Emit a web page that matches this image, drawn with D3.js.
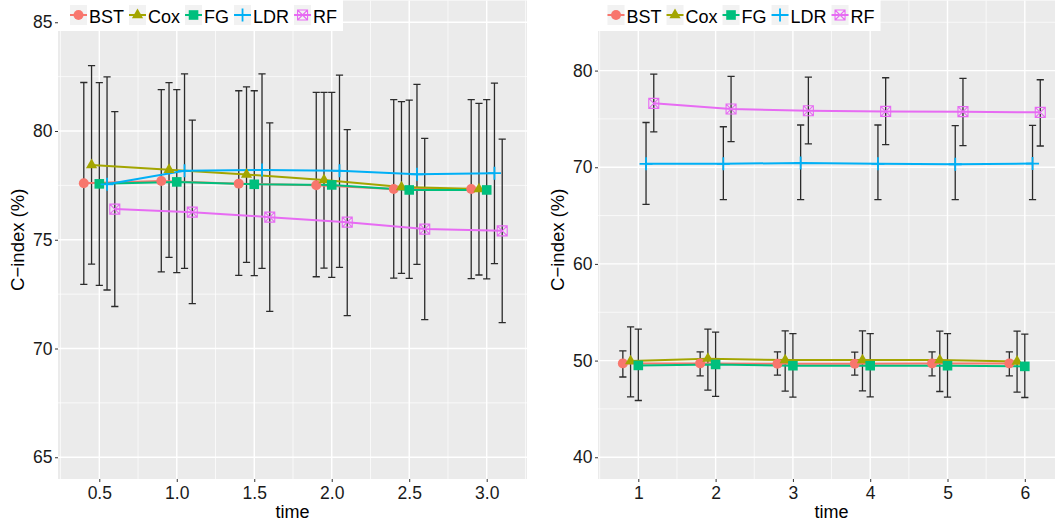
<!DOCTYPE html>
<html>
<head>
<meta charset="utf-8">
<script src="https://cdn.jsdelivr.net/npm/d3@7"></script>
<style>
  body { margin: 0; background: #fff; }
  svg { display: block; font-family: "Liberation Sans", Arial, sans-serif; }
</style>
</head>
<body>
<div id="chart"></div>
<script>
// methods and ggplot hue colours
var methods = ["BST", "Cox", "FG", "LDR", "RF"];
var colours = ["#F8766D", "#A3A500", "#00BF7D", "#00B0F6", "#E76BF3"];

// left panel: time 0.5 .. 3.0
var leftTimes = [0.5, 1.0, 1.5, 2.0, 2.5, 3.0];
var leftMean = [
  [77.60, 77.70, 77.58, 77.51, 77.33, 77.33],
  [78.44, 78.22, 78.00, 77.75, 77.42, 77.33],
  [77.57, 77.66, 77.55, 77.52, 77.29, 77.29],
  [77.55, 78.17, 78.21, 78.17, 78.01, 78.06],
  [76.41, 76.27, 76.04, 75.81, 75.49, 75.41]
];
var leftLower = [
  [72.95, 73.52, 73.36, 73.30, 73.24, 73.21],
  [73.88, 74.19, 73.96, 73.70, 73.45, 73.38],
  [72.90, 73.49, 73.35, 73.27, 73.22, 73.20],
  [72.69, 73.68, 73.68, 73.73, 73.87, 73.90],
  [71.93, 72.06, 71.71, 71.51, 71.33, 71.19]
];
var leftUpper = [
  [82.23, 81.90, 81.85, 81.78, 81.44, 81.44],
  [83.01, 82.22, 82.03, 81.78, 81.35, 81.27],
  [82.22, 81.90, 81.85, 81.78, 81.42, 81.44],
  [82.49, 82.63, 82.63, 82.57, 82.14, 82.20],
  [80.89, 80.50, 80.37, 80.06, 79.66, 79.63]
];
var leftYTicks = [65, 70, 75, 80, 85];

// right panel: time 1 .. 6
var rightTimes = [1, 2, 3, 4, 5, 6];
var rightMean = [
  [49.71, 49.71, 49.67, 49.67, 49.71, 49.71],
  [49.95, 50.20, 50.05, 50.05, 50.05, 49.91],
  [49.50, 49.60, 49.47, 49.47, 49.47, 49.40],
  [70.35, 70.35, 70.45, 70.35, 70.31, 70.38],
  [76.61, 76.02, 75.85, 75.78, 75.75, 75.68]
];
var rightLower = [
  [48.30, 48.42, 48.49, 48.49, 48.42, 48.42],
  [46.25, 46.94, 46.84, 46.87, 46.80, 46.74],
  [45.87, 46.29, 46.22, 46.25, 46.22, 46.18],
  [66.15, 66.66, 66.66, 66.66, 66.66, 66.66],
  [73.65, 72.65, 72.41, 72.34, 72.24, 72.20]
];
var rightUpper = [
  [51.00, 50.90, 50.90, 50.87, 50.90, 50.90],
  [53.49, 53.25, 53.07, 53.07, 53.04, 53.04],
  [53.25, 52.94, 52.78, 52.78, 52.78, 52.74],
  [74.63, 74.19, 74.37, 74.37, 74.30, 74.33],
  [79.64, 79.40, 79.33, 79.26, 79.19, 79.05]
];
var rightYTicks = [40, 50, 60, 70, 80];

var W = 1055, H = 523;
var svg = d3.select("#chart").append("svg").attr("width", W).attr("height", H);

var panels = [
  { left: 58, right: 527, xDom: [0.2335, 3.26], yDom: [64, 86], times: leftTimes,
    mean: leftMean, lo: leftLower, hi: leftUpper, yTicks: leftYTicks,
    xTicks: leftTimes, xFmt: d3.format(".1f"), dodge: 0.25, legOff: 12 },
  { left: 598, right: 1065, xDom: [0.4785, 6.52], yDom: [37.75, 87.25], times: rightTimes,
    mean: rightMean, lo: rightLower, hi: rightUpper, yTicks: rightYTicks,
    xTicks: rightTimes, xFmt: d3.format("d"), dodge: 0.5, legOff: 9.5 }
];
var panelTop = 0.5, panelBottom = 479;

// point shapes, size in px
function shapePath(i) {
  if (i === 0) return d3.symbol(d3.symbolCircle, 78)();
  if (i === 1) return "M0,-6.4L5.6,3.2L-5.6,3.2Z";
  if (i === 2) return "M-4.8,-4.8H4.8V4.8H-4.8Z";
  return null;
}

function drawShape(g, i, x, y) {
  var c = colours[i];
  if (i < 3) {
    g.append("path").attr("d", shapePath(i))
      .attr("transform", "translate(" + x + "," + y + ")")
      .attr("fill", c);
  } else if (i === 3) {
    g.append("path").attr("d", "M-6.5,0H6.5M0,-6.5V6.5")
      .attr("transform", "translate(" + x + "," + y + ")")
      .attr("stroke", c).attr("stroke-width", 1.8).attr("fill", "none");
  } else {
    g.append("path").attr("d", "M-5,-5H5V5H-5ZM-5,-5L5,5M5,-5L-5,5")
      .attr("transform", "translate(" + x + "," + y + ")")
      .attr("stroke", c).attr("stroke-width", 1.1).attr("fill", "none");
  }
}

panels.forEach(function(p) {
  var x = d3.scaleLinear().domain(p.xDom).range([p.left, p.right]);
  var y = d3.scaleLinear().domain(p.yDom).range([panelBottom, panelTop]);
  var g = svg.append("g");

  // panel background
  g.append("rect").attr("x", p.left).attr("y", panelTop)
    .attr("width", p.right - p.left).attr("height", panelBottom - panelTop)
    .attr("fill", "#EBEBEB");

  // minor grid (half-way between majors)
  var xStep = p.xTicks[1] - p.xTicks[0];
  var yStep = p.yTicks[1] - p.yTicks[0];
  var xMinor = d3.range(p.xTicks[0] - xStep / 2, p.xDom[1], xStep).filter(function(v) { return v > p.xDom[0]; });
  var yMinor = d3.range(p.yTicks[0] - yStep / 2, p.yDom[1], yStep).filter(function(v) { return v > p.yDom[0]; });
  g.selectAll(".xminor").data(xMinor).enter().append("line")
    .attr("x1", function(d) { return x(d); }).attr("x2", function(d) { return x(d); })
    .attr("y1", panelTop).attr("y2", panelBottom)
    .attr("stroke", "#fff").attr("stroke-width", 0.7);
  g.selectAll(".yminor").data(yMinor).enter().append("line")
    .attr("y1", function(d) { return y(d); }).attr("y2", function(d) { return y(d); })
    .attr("x1", p.left).attr("x2", p.right)
    .attr("stroke", "#fff").attr("stroke-width", 0.7);
  // major grid
  g.selectAll(".xmajor").data(p.xTicks).enter().append("line")
    .attr("x1", function(d) { return x(d); }).attr("x2", function(d) { return x(d); })
    .attr("y1", panelTop).attr("y2", panelBottom)
    .attr("stroke", "#fff").attr("stroke-width", 1.4);
  g.selectAll(".ymajor").data(p.yTicks).enter().append("line")
    .attr("y1", function(d) { return y(d); }).attr("y2", function(d) { return y(d); })
    .attr("x1", p.left).attr("x2", p.right)
    .attr("stroke", "#fff").attr("stroke-width", 1.4);

  // axes
  var ax = g.append("g").attr("transform", "translate(0," + panelBottom + ")")
    .call(d3.axisBottom(x).tickValues(p.xTicks).tickFormat(p.xFmt).tickSize(3).tickPadding(3));
  var ay = g.append("g").attr("transform", "translate(" + p.left + ",0)")
    .call(d3.axisLeft(y).tickValues(p.yTicks).tickSize(3).tickPadding(2.5));
  [ax, ay].forEach(function(a) {
    a.select(".domain").remove();
    a.attr("font-size", null).attr("font-family", null);
    a.selectAll(".tick line").attr("stroke", "#333").attr("stroke-width", 1);
    a.selectAll(".tick text").attr("fill", "#1a1a1a").style("font-size", "17.5px");
  });
  ax.selectAll(".tick text").attr("dy", "0.8em");

  // axis titles
  g.append("text").attr("x", (p.left + p.right) / 2).attr("y", 518)
    .attr("text-anchor", "middle").style("font-size", "18px").attr("fill", "#000").text("time");
  g.append("text")
    .attr("transform", "translate(" + (p.left - 34.5) + "," + ((panelTop + panelBottom) / 2) + ") rotate(-90)")
    .attr("text-anchor", "middle").style("font-size", "18.5px").attr("fill", "#000").text("C\u2212index (%)");

  function px(i, j) { return x(p.times[j] + (i - 2) * p.dodge / 5); }

  // error bars
  var eb = g.append("g").attr("stroke", "#2b2b2b").attr("stroke-width", 1.3).attr("fill", "none");
  methods.forEach(function(m, i) {
    p.times.forEach(function(t, j) {
      var cx = px(i, j), y0 = y(p.lo[i][j]), y1 = y(p.hi[i][j]);
      eb.append("path").attr("d",
        "M" + cx + "," + y0 + "V" + y1 +
        "M" + (cx - 3.6) + "," + y1 + "H" + (cx + 3.6) +
        "M" + (cx - 3.6) + "," + y0 + "H" + (cx + 3.6));
    });
  });

  // lines
  var line = d3.line().x(function(d) { return d[0]; }).y(function(d) { return d[1]; });
  methods.forEach(function(m, i) {
    var pts = p.times.map(function(t, j) { return [px(i, j), y(p.mean[i][j])]; });
    g.append("path").attr("d", line(pts)).attr("fill", "none")
      .attr("stroke", colours[i]).attr("stroke-width", 2);
  });

  // points
  methods.forEach(function(m, i) {
    p.times.forEach(function(t, j) { drawShape(g, i, px(i, j), y(p.mean[i][j])); });
  });

  // legend inside the top of the panel
  var lg = g.append("g");
  var box = lg.append("rect").attr("x", p.left).attr("y", 0).attr("height", 31).attr("fill", "#fff");
  var cur = p.left + p.legOff;
  methods.forEach(function(m, i) {
    lg.append("rect").attr("x", cur).attr("y", 5).attr("width", 17).attr("height", 20).attr("fill", "#F2F2F2");
    lg.append("line").attr("x1", cur).attr("x2", cur + 17).attr("y1", 15).attr("y2", 15)
      .attr("stroke", colours[i]).attr("stroke-width", 2);
    drawShape(lg, i, cur + 8.5, 15);
    var t = lg.append("text").attr("x", cur + 19).attr("y", 23)
      .style("font-size", "18px").attr("fill", "#000").text(m);
    cur = cur + 19 + t.node().getComputedTextLength() + 5;
  });
  box.attr("width", cur + 1 - p.left);
});
</script>
</body>
</html>
